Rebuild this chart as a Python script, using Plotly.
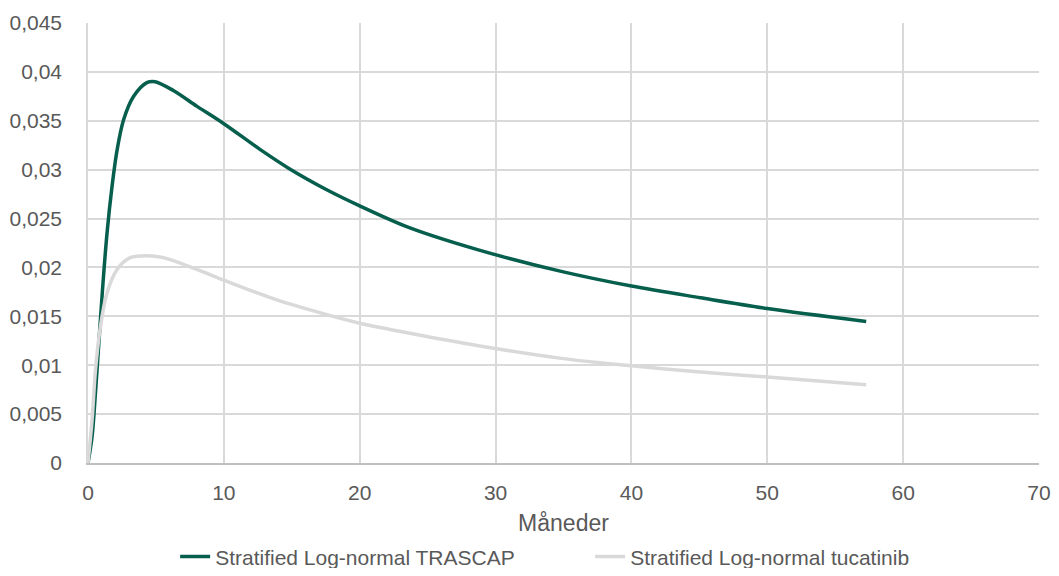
import plotly.graph_objects as go

# hazard
trascap_x = [0, 0.3, 0.55, 0.8, 1.05, 1.4, 1.77, 2.14, 2.62, 3.36, 4.33, 4.94, 6.28, 8.0, 10,
             12.63, 14.82, 17.5, 20, 23.6, 28.73, 34.83, 40, 45.08, 50, 57.28]
trascap_y = [0, 0.0027, 0.0072, 0.0123, 0.0174, 0.0235, 0.0283, 0.0320, 0.0351, 0.0375, 0.0389,
             0.0390, 0.0381, 0.0365, 0.0347, 0.0321, 0.0301, 0.0280, 0.0263, 0.0241, 0.0218,
             0.0196, 0.0181, 0.0169, 0.0158, 0.01448]

tucatinib_x = [0, 0.3, 0.55, 0.92, 1.4, 2.14, 3.11, 4.33, 5.55, 8.0, 10, 13.85, 17.5, 20, 23.6,
               28.73, 34.83, 40, 45.08, 50, 57.28]
tucatinib_y = [0, 0.0044, 0.0095, 0.0140, 0.0174, 0.0198, 0.0210, 0.0212, 0.0210, 0.0198, 0.0187,
               0.0167, 0.0152, 0.0143, 0.0133, 0.0120, 0.0107, 0.00995, 0.0093, 0.0088, 0.0080]

names = ["Stratified Log-normal TRASCAP", "Stratified Log-normal tucatinib"]

font_name = "Liberation Sans"
txt = "#595959"

fig = go.Figure()
fig.add_trace(go.Scatter(x=trascap_x, y=trascap_y, mode="lines", name=names[0],
                         line=dict(color="#065E4D", width=3.5, shape="spline", smoothing=0.9)))
fig.add_trace(go.Scatter(x=tucatinib_x, y=tucatinib_y, mode="lines", name=names[1],
                         line=dict(color="#D9D9D9", width=3.5, shape="spline", smoothing=0.9)))

# page body adds 8px all round, so keep the figure inside the window (no scrollbars)
fig.update_layout(
    width=1043, height=560,
    margin=dict(l=80, r=12, t=15, b=105),
    paper_bgcolor="white", plot_bgcolor="white",
    separators=", ",
    font=dict(family=font_name, size=21, color=txt),
    legend=dict(orientation="h", x=0.528, xanchor="center", yref="container", y=0.02,
                yanchor="middle", font=dict(size=21, color=txt), entrywidth=370,
                traceorder="normal"),
)
fig.update_xaxes(range=[0, 70], dtick=10, showgrid=True, gridcolor="#D9D9D9", gridwidth=1.5,
                 showline=True, linecolor="#BFBFBF", linewidth=1.5, zeroline=False,
                 ticks="", automargin=False, ticklabelstandoff=10, tickfont=dict(size=21, color=txt),
                 title=dict(text="Måneder", font=dict(size=23, color=txt), standoff=14))
fig.update_yaxes(range=[0, 0.045], dtick=0.005, showgrid=True, gridcolor="#D9D9D9", gridwidth=1.5,
                 zeroline=False, showline=True, linecolor="#D9D9D9", linewidth=1.5,
                 ticks="", automargin=False, ticklabelstandoff=20, tickfont=dict(size=21, color=txt))

fig.write_html("out.html")
